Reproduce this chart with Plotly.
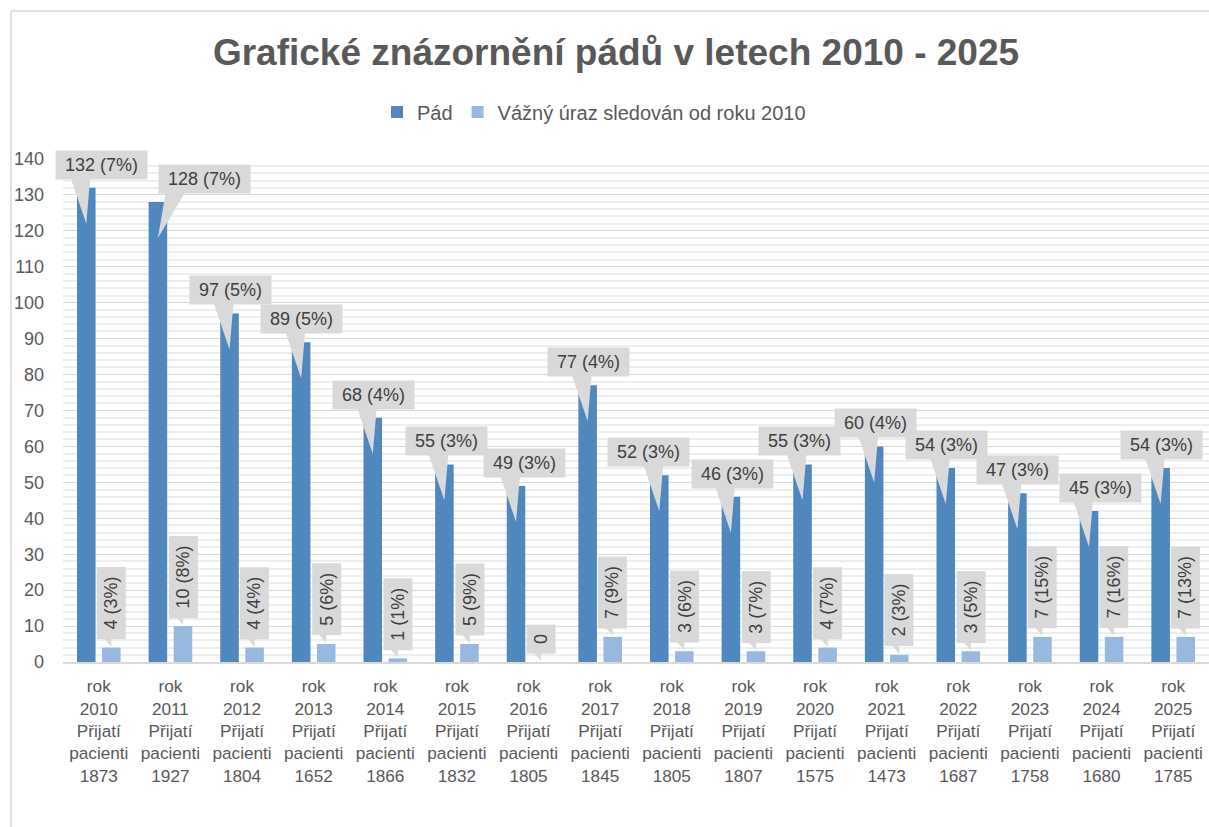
import plotly.graph_objects as go

# ---- data ----
years = [2010, 2011, 2012, 2013, 2014, 2015, 2016, 2017,
         2018, 2019, 2020, 2021, 2022, 2023, 2024, 2025]
patients = [1873, 1927, 1804, 1652, 1866, 1832, 1805, 1845,
            1805, 1807, 1575, 1473, 1687, 1758, 1680, 1785]
falls = [132, 128, 97, 89, 68, 55, 49, 77, 52, 46, 55, 60, 54, 47, 42, 54]
serious = [4, 10, 4, 5, 1, 5, 0, 7, 3, 3, 4, 2, 3, 7, 7, 7]
fall_labels = ["132 (7%)", "128 (7%)", "97 (5%)", "89 (5%)", "68 (4%)", "55 (3%)",
               "49 (3%)", "77 (4%)", "52 (3%)", "46 (3%)", "55 (3%)", "60 (4%)",
               "54 (3%)", "47 (3%)", "45 (3%)", "54 (3%)"]
serious_labels = ["4 (3%)", "10 (8%)", "4 (4%)", "5 (6%)", "1 (1%)", "5 (9%)",
                  "0", "7 (9%)", "3 (6%)", "3 (7%)", "4 (7%)", "2 (3%)",
                  "3 (5%)", "7 (15%)", "7 (16%)", "7 (13%)"]
series_names = ["Pád", "Vážný úraz sledován od roku 2010"]
title_text = "Grafické znázornění pádů v letech 2010 - 2025"

categories = [f"rok<br>{y}<br>Přijatí<br>pacienti<br>{p}" for y, p in zip(years, patients)]

# ---- layout / style (not data) ----
W, H = 1209, 827
ML, MR, MT, MB = 63, 0, 159, 165
BARGAP, GROUPGAP = 0.30, 0.26
SLOT = (1 - BARGAP) / 2
label_left_px = [-31, 0, -41, -41, -41, -39, -33, -41, -52, -40, -45, -40, -41, -41, -30, -41]
FONT = "Liberation Sans, Arial, sans-serif"
C_DARK = "#4f88bf"
C_LIGHT = "#97b9e0"
C_BOX = "#d9d9d9"
C_TXT = "#595959"
C_LBL = "#404040"

fig = go.Figure()
fig.add_trace(go.Bar(x=categories, y=falls, name=series_names[0],
                     marker=dict(color=C_DARK, line=dict(width=0))))
fig.add_trace(go.Bar(x=categories, y=serious, name=series_names[1],
                     marker=dict(color=C_LIGHT, line=dict(width=0))))

nb = "\u00a0"
annotations = []
shapes = []
for i in range(len(categories)):
    # callout for the main series
    xc = i - SLOT / 2
    left = label_left_px[i]
    bw = 82 if len(fall_labels[i]) <= 7 else 92
    annotations.append(dict(
        x=xc, y=falls[i], xref="x", yref="y", xanchor="left", yanchor="bottom",
        xshift=left, yshift=8, showarrow=False, text=nb + fall_labels[i] + nb,
        bgcolor=C_BOX, borderpad=4, font=dict(family=FONT, size=18, color=C_LBL)))
    b0 = max(-16, left + 8)
    b1 = min(b0 + 20, left + bw - 6)
    shapes.append(dict(
        type="path", xref="x", yref="y", xsizemode="pixel", ysizemode="pixel",
        xanchor=xc, yanchor=falls[i],
        path=f"M {b0},11 L {b1},11 L 0,-36 Z",
        fillcolor=C_BOX, line=dict(width=0), layer="above"))
    # vertical labels for the second series
    xs = i + SLOT / 2
    annotations.append(dict(
        x=xs, y=serious[i], xref="x", yref="y", xanchor="center", yanchor="bottom",
        yshift=8, showarrow=False, textangle=-90, text=nb + serious_labels[i] + nb,
        bgcolor=C_BOX, borderpad=4, font=dict(family=FONT, size=18, color=C_LBL)))
    shapes.append(dict(
        type="path", xref="x", yref="y", xsizemode="pixel", ysizemode="pixel",
        xanchor=xs, yanchor=serious[i],
        path="M -8,10 L 0,10 L 0,1 Z",
        fillcolor=C_BOX, line=dict(width=0), layer="above"))

# chart border (left and top edges visible in the crop)
pw, ph = W - ML - MR, H - MT - MB
bx = (11 - ML) / pw
by = (H - MB - 11) / ph
shapes.append(dict(type="line", xref="paper", yref="paper", x0=bx, x1=bx,
                   y0=(H - MB - H - 5) / ph, y1=by, line=dict(color="#d9d9d9", width=1.5)))
shapes.append(dict(type="line", xref="paper", yref="paper", x0=bx, x1=1.01,
                   y0=by, y1=by, line=dict(color="#d9d9d9", width=1.5)))

fig.update_layout(
    width=W, height=H,
    margin=dict(l=ML, r=MR, t=MT, b=MB, pad=0, autoexpand=False),
    paper_bgcolor="white", plot_bgcolor="white",
    font=dict(family=FONT, size=18, color=C_TXT),
    barmode="group", bargap=BARGAP, bargroupgap=GROUPGAP,
    title=dict(text=f"<b>{title_text}</b>", x=616 / W, xref="container", xanchor="center",
               y=1 - 52 / H, yanchor="middle",
               font=dict(family=FONT, size=37, color=C_TXT)),
    legend=dict(orientation="h", x=(594 - ML) / pw, xanchor="center",
                y=(H - MB - 112) / ph, yanchor="middle",
                font=dict(family=FONT, size=20, color=C_TXT),
                itemwidth=30, tracegroupgap=0),
    annotations=annotations,
    shapes=shapes,
    showlegend=True,
)
fig.update_xaxes(type="category", range=[-0.5, len(categories) - 0.5],
                 showgrid=False, showline=True, linecolor="#d9d9d9",
                 linewidth=1.5, ticks="", tickangle=0, ticklabelstandoff=8, automargin=False,
                 tickfont=dict(family=FONT, size=17.2, color=C_TXT))
fig.update_yaxes(range=[0, 140], dtick=10, showgrid=True, gridcolor="#d9d9d9", gridwidth=1,
                 minor=dict(dtick=2, showgrid=True, gridcolor="#eeeeee", gridwidth=1.5),
                 zeroline=False, showline=False, ticks="", ticklabelstandoff=18, automargin=False,
                 tickfont=dict(family=FONT, size=18, color=C_TXT))

fig.write_html("out.html", config={"displayModeBar": False},
               post_script="document.body.style.margin='0px';document.body.style.overflow='hidden';")
